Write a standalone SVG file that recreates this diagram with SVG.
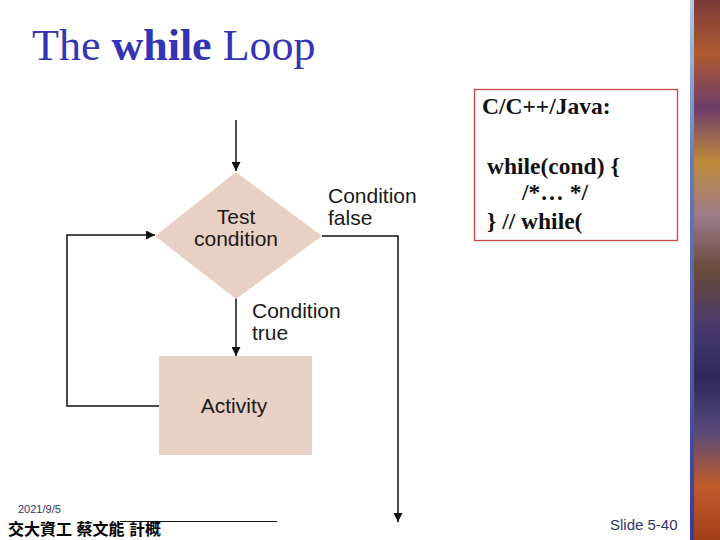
<svg xmlns="http://www.w3.org/2000/svg" width="720" height="540" viewBox="0 0 720 540">
<defs>
<style>
.sans{font-family:"Liberation Sans",Arial,sans-serif;font-size:21px;fill:#1a1a1a}
.code{font-family:"Liberation Serif","Times New Roman",serif;font-size:23.5px;font-weight:bold;fill:#111}
.node{fill:#e9d0c5}
.conn{fill:none;stroke:#111;stroke-width:1.5}
</style>
<marker id="arr" viewBox="0 0 10 10" refX="10" refY="5" markerWidth="9" markerHeight="9" markerUnits="userSpaceOnUse" orient="auto">
<path d="M0,0 L10,5 L0,10 z" fill="#111"/>
</marker>
<linearGradient id="stripe" x1="0" y1="0" x2="0" y2="1">
<stop offset="0" stop-color="#7a3a3a"/>
<stop offset="0.1" stop-color="#b05a30"/>
<stop offset="0.2" stop-color="#6b3c6a"/>
<stop offset="0.3" stop-color="#c08a3a"/>
<stop offset="0.4" stop-color="#9a7a8a"/>
<stop offset="0.5" stop-color="#6a4a3a"/>
<stop offset="0.6" stop-color="#4a3a6a"/>
<stop offset="0.7" stop-color="#2c2a5a"/>
<stop offset="0.8" stop-color="#5a4a7a"/>
<stop offset="0.9" stop-color="#c05a2a"/>
<stop offset="1" stop-color="#a0401a"/>
</linearGradient>
<linearGradient id="edge" x1="0" y1="0" x2="0" y2="1">
<stop offset="0" stop-color="#b8c8e0"/>
<stop offset="0.3" stop-color="#6a7ab8"/>
<stop offset="1" stop-color="#3a3a9a"/>
</linearGradient>
</defs>
<rect width="720" height="540" fill="#fff"/>
<g id="sidebar">
<rect x="693" y="0" width="27" height="540" fill="url(#stripe)"/>
<rect x="690" y="0" width="4" height="540" fill="url(#edge)"/>
</g>
<g id="title">
<text x="32" y="60" font-family="'Liberation Serif','Times New Roman',serif" font-size="44" fill="#3333b5">The <tspan font-weight="bold">while</tspan> Loop</text>
</g>
<g id="codebox">
<rect x="474.5" y="89.5" width="203" height="151" fill="#fff" stroke="#c84848" stroke-width="1.3"/>
<text class="code" x="482" y="114">C/C++/Java:</text>
<text class="code" x="487" y="174">while(cond) {</text>
<text class="code" x="522" y="200">/*… */</text>
<text class="code" x="487" y="229">} // while(</text>
</g>
<g id="connectors">
<line class="conn" x1="236" y1="120" x2="236" y2="171" marker-end="url(#arr)"/>
<line class="conn" x1="236" y1="298" x2="236" y2="356" marker-end="url(#arr)"/>
<polyline class="conn" points="322,236 398,236 398,522" marker-end="url(#arr)"/>
<polyline class="conn" points="159,406 67,406 67,235 155,235" marker-end="url(#arr)"/>
</g>
<g id="test-condition">
<polygon class="node" points="236,172 322,236 236,299 155,236"/>
<text class="sans" x="236" y="224" text-anchor="middle">Test</text>
<text class="sans" x="236" y="246" text-anchor="middle">condition</text>
</g>
<g id="activity">
<rect class="node" x="159" y="356" width="153" height="99"/>
<text class="sans" x="234" y="413" text-anchor="middle">Activity</text>
</g>
<g id="labels">
<text class="sans" x="328" y="203">Condition</text>
<text class="sans" x="328" y="225">false</text>
<text class="sans" x="252" y="318">Condition</text>
<text class="sans" x="252" y="340">true</text>
</g>
<g id="footer">
<text x="18" y="513" font-family="'Liberation Sans',Arial,sans-serif" font-size="11" fill="#333366">2021/9/5</text>
<line x1="120" y1="521.5" x2="277" y2="521.5" stroke="#111" stroke-width="1"/>
<text x="8" y="535" font-family="'Liberation Sans','Noto Sans CJK TC',sans-serif" font-size="16" font-weight="bold" fill="#000">交大資工 蔡文能 計概</text>
<text x="610" y="530" font-family="'Liberation Sans',Arial,sans-serif" font-size="15" fill="#333366">Slide 5-40</text>
</g>
</svg>
